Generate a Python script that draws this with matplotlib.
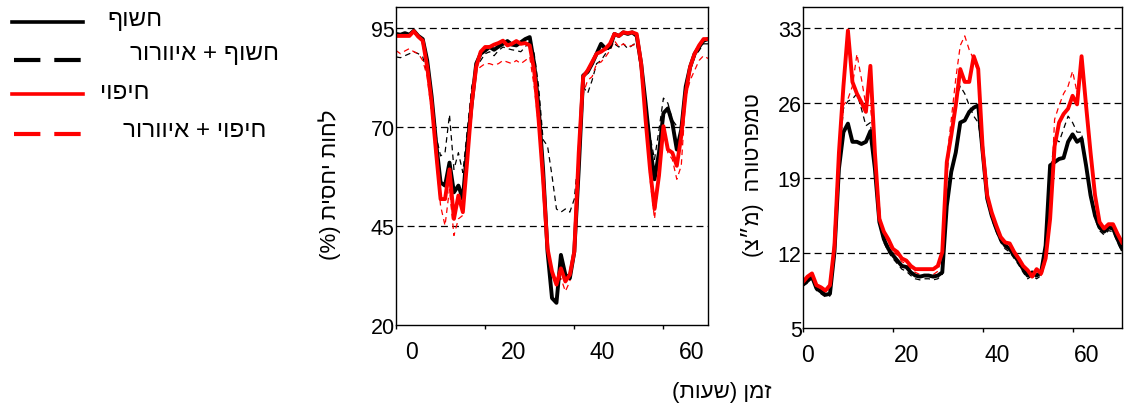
import numpy as np
import matplotlib
matplotlib.use("Agg")
from matplotlib import pyplot as plt
from matplotlib.lines import Line2D
from matplotlib.transforms import ScaledTranslation

plt.rcParams['font.family'] = ['Liberation Sans', 'DejaVu Sans']
plt.rcParams['lines.scale_dashes'] = False

# hourly readings, hours 0..70 (humidity) and 0..71 (temperature)
hum_bare = [93.5, 93.3, 93.7, 93.3, 94.3, 93.0, 92.2, 86.8, 77.7, 66.0,
            56.0, 55.2, 61.0, 53.5, 55.2, 51.8, 65.2, 76.0, 86.0, 88.5,
            89.3, 90.2, 89.5, 90.3, 91.0, 91.7, 90.8, 90.6, 91.4, 92.2,
            92.7, 86.0, 75.0, 59.3, 38.5, 26.8, 25.6, 37.7, 32.7, 31.8,
            38.5, 59.3, 83.0, 83.9, 86.0, 88.5, 91.0, 89.8, 90.2, 93.5,
            93.0, 93.9, 93.5, 93.9, 93.0, 86.0, 76.0, 65.2, 56.8, 63.5,
            73.5, 74.7, 71.0, 64.3, 69.3, 80.2, 85.2, 88.5, 90.2, 91.8,
            92.2]
hum_bare_vent = [87.7, 87.5, 88.0, 88.5, 89.0, 88.5, 87.7, 83.5, 76.0, 67.7,
                 62.7, 63.5, 73.1, 59.3, 63.5, 58.5, 69.3, 80.2, 84.8, 86.8,
                 88.5, 89.0, 88.0, 89.3, 90.2, 89.8, 89.5, 89.3, 89.0, 90.2,
                 91.8, 88.5, 80.2, 66.8, 65.2, 57.7, 49.3, 48.5, 49.3, 48.5,
                 51.8, 63.5, 80.2, 78.5, 81.8, 86.0, 86.8, 88.5, 90.2, 91.0,
                 90.2, 91.0, 89.8, 90.6, 91.4, 86.0, 76.0, 67.7, 61.8, 69.3,
                 77.3, 76.0, 71.8, 70.2, 70.2, 80.2, 84.3, 87.7, 89.3, 91.0,
                 91.0]
hum_cover = [93.0, 93.0, 93.0, 93.0, 94.2, 92.8, 91.8, 85.2, 76.0, 63.5,
             51.8, 51.8, 59.3, 46.8, 52.7, 48.5, 61.8, 76.0, 85.2, 89.0,
             90.2, 90.2, 90.8, 91.2, 91.8, 90.6, 91.0, 91.7, 91.0, 91.2,
             90.6, 84.3, 71.8, 56.8, 39.3, 33.5, 30.2, 34.3, 31.0, 32.7,
             38.5, 63.5, 82.7, 84.3, 86.4, 88.5, 89.0, 89.8, 91.0, 93.5,
             93.0, 93.9, 93.7, 93.9, 93.5, 86.0, 71.8, 59.3, 49.3, 57.7,
             70.2, 64.3, 63.5, 60.2, 67.7, 78.5, 85.2, 88.5, 90.6, 92.2,
             92.2]
hum_cover_vent = [89.3, 88.5, 89.2, 89.8, 89.0, 88.5, 86.8, 82.7, 73.5, 61.8,
                  50.1, 45.1, 54.3, 42.6, 46.8, 47.7, 60.2, 74.3, 84.3, 85.2,
                  86.0, 86.0, 85.6, 86.0, 86.8, 86.4, 86.0, 86.8, 86.0, 86.8,
                  87.7, 80.2, 70.2, 55.2, 38.5, 32.7, 30.2, 31.8, 28.5, 31.0,
                  38.5, 61.8, 78.5, 81.8, 82.7, 86.0, 86.4, 87.7, 89.3, 91.8,
                  90.2, 91.0, 90.2, 90.6, 91.0, 84.3, 71.8, 56.8, 46.8, 56.8,
                  69.3, 63.5, 61.8, 56.8, 60.2, 77.7, 81.8, 84.3, 86.8, 88.0,
                  87.3]

temp_bare = [9.1, 9.4, 9.8, 8.7, 8.4, 8.1, 8.2, 12.1, 19.9, 23.3,
             24.1, 22.4, 22.4, 22.2, 22.4, 23.4, 19.9, 14.9, 13.3, 12.4,
             11.8, 11.3, 10.8, 10.7, 10.2, 9.9, 9.8, 9.9, 9.9, 9.8,
             9.9, 10.2, 16.4, 19.6, 21.4, 24.2, 24.4, 25.2, 25.6, 25.8,
             21.4, 17.1, 15.5, 14.3, 13.3, 12.7, 12.4, 11.8, 11.2, 10.5,
             9.9, 10.2, 9.9, 10.2, 12.7, 20.2, 20.5, 20.8, 20.9, 22.4,
             23.1, 22.4, 22.7, 20.2, 17.4, 15.5, 14.4, 14.0, 14.4, 14.3,
             13.3, 12.4]
temp_bare_vent = [8.9, 9.2, 9.6, 8.5, 8.2, 7.9, 8.0, 11.8, 20.5, 25.5,
                  26.2, 26.4, 26.9, 25.5, 23.9, 24.2, 19.9, 14.7, 13.0, 12.1,
                  11.5, 11.0, 10.5, 10.3, 9.9, 9.6, 9.5, 9.6, 9.6, 9.5,
                  9.6, 10.0, 19.2, 23.6, 26.4, 27.6, 26.9, 25.8, 24.8, 24.2,
                  21.4, 16.8, 15.2, 14.0, 13.0, 12.4, 12.1, 11.5, 10.9, 10.2,
                  9.6, 9.9, 9.6, 9.9, 12.4, 19.2, 22.7, 22.4, 23.6, 24.8,
                  24.2, 23.3, 23.3, 20.2, 17.1, 15.2, 14.1, 13.7, 14.1, 14.0,
                  13.0, 12.1]
temp_cover = [9.3, 9.8, 10.1, 9.0, 8.8, 8.5, 9.0, 12.7, 21.4, 27.6,
              32.8, 28.0, 26.9, 26.1, 25.2, 29.5, 21.4, 15.2, 14.0, 13.3,
              12.4, 12.1, 11.5, 11.3, 10.8, 10.5, 10.5, 10.5, 10.5, 10.5,
              10.8, 12.1, 20.5, 23.0, 25.8, 29.2, 28.0, 28.0, 30.4, 29.2,
              21.7, 17.4, 15.8, 14.6, 13.5, 13.0, 12.9, 12.1, 11.5, 10.8,
              10.4, 9.8, 10.5, 10.1, 11.5, 15.2, 22.0, 24.2, 25.0, 25.5,
              26.7, 25.9, 30.4, 25.8, 21.4, 17.4, 14.9, 14.3, 14.7, 14.7,
              13.8, 13.0]
temp_cover_vent = [9.1, 9.6, 9.9, 8.8, 8.6, 8.3, 8.8, 12.4, 20.8, 25.8,
                   26.4, 27.6, 30.6, 28.3, 25.8, 25.8, 21.4, 14.9, 13.7, 13.0,
                   12.1, 11.8, 11.2, 11.0, 10.5, 10.2, 10.0, 10.0, 10.0, 10.0,
                   10.3, 11.8, 20.8, 24.5, 28.3, 31.4, 32.3, 31.0, 30.1, 28.9,
                   21.7, 17.1, 15.5, 14.3, 13.2, 12.7, 12.6, 11.8, 11.2, 10.5,
                   10.1, 9.6, 10.2, 9.9, 11.2, 15.8, 24.5, 25.8, 26.9, 27.6,
                   29.0, 27.0, 30.4, 26.1, 21.4, 17.1, 14.6, 14.0, 14.4, 14.4,
                   13.5, 12.7]

# Hebrew strings are stored in visual (left-to-right) order
legend_labels = ['ףושח', 'רורוויא + ףושח', 'יופיח', 'רורוויא + יופיח']

W, H = 1124, 406
fig = plt.figure(figsize=(W / 100, H / 100), dpi=100)

ax1 = fig.add_axes([396 / W, 1 - 326 / H, 312 / W, 318 / H])
ax2 = fig.add_axes([803 / W, 1 - 329 / H, 319 / W, 321 / H])

thin = dict(lw=0.9, linestyle=(0, (4, 3)))
thick = dict(lw=2.8, solid_joinstyle='round')


def draw(ax, bare, bare_v, cover, cover_v):
    ax.plot(np.arange(len(bare_v)), bare_v, color='black', **thin)
    ax.plot(np.arange(len(cover_v)), cover_v, color='#ff0000', **thin)
    ax.plot(np.arange(len(bare)), bare, color='black', **thick)
    ax.plot(np.arange(len(cover)), cover, color='#ff0000', **thick)


draw(ax1, hum_bare, hum_bare_vent, hum_cover, hum_cover_vent)
draw(ax2, temp_bare, temp_bare_vent, temp_cover, temp_cover_vent)

ax1.set_xlim(0, 70)
ax1.set_ylim(20, 100.3)
ax1.set_yticks([20, 45, 70, 95])
ax2.set_xlim(0, 71)
ax2.set_ylim(5, 35)
ax2.set_yticks([5, 12, 19, 26, 33])

for ax, grid in ((ax1, [45, 70, 95]), (ax2, [12, 19, 26, 33])):
    for g in grid:
        ax.axhline(g, color='black', lw=0.9, linestyle=(0, (5, 3)), zorder=0)
    ax.set_xticks([0, 20, 40, 60])
    ax.tick_params(axis='y', length=0, pad=1, labelsize=15.5)
    ax.tick_params(axis='x', length=3, width=1, pad=8, labelsize=16.5)
    for s in ax.spines.values():
        s.set_linewidth(1)

# tick labels sit a little right of their tick marks in the original
for ax, offs in ((ax1, [16, 28, 28, 28]), (ax2, [5, 14, 14, 14])):
    for lab, dx in zip(ax.get_xticklabels(), offs):
        lab.set_transform(lab.get_transform() + ScaledTranslation(dx / 100, 0, fig.dpi_scale_trans))

fig.text(330 / W, 1 - 185 / H, '(%) תיסחי תוחל', rotation=90, ha='center', va='center', fontsize=16)
fig.text(752 / W, 1 - 175 / H, '(צ״מ)  הרוטרפמט', rotation=90, ha='center', va='center', fontsize=15.5)
fig.text(722 / W, 1 - 393 / H, '(תועש) ןמז', ha='center', va='center', fontsize=16)

# legend drawn by hand
leg_y = [23, 61, 95, 135]
leg_txt = [(107, 20), (130, 54), (100, 93), (123, 131)]
leg_style = [('black', '-'), ('black', (0, (19, 10))), ('#ff0000', '-'), ('#ff0000', (0, (19, 10)))]
for y, (tx, ty), (c, ls), lab in zip(leg_y, leg_txt, leg_style, legend_labels):
    x0, x1 = (12, 83) if ls == '-' else (14, 82)
    fig.add_artist(Line2D([x0 / W, x1 / W], [1 - y / H, 1 - y / H], transform=fig.transFigure,
                          color=c, linestyle=ls, lw=2.6 if ls == '-' else 3.0))
    fig.text(tx / W, 1 - ty / H, lab, ha='left', va='center', fontsize=17.5)

fig.savefig('out.png', dpi=100)
